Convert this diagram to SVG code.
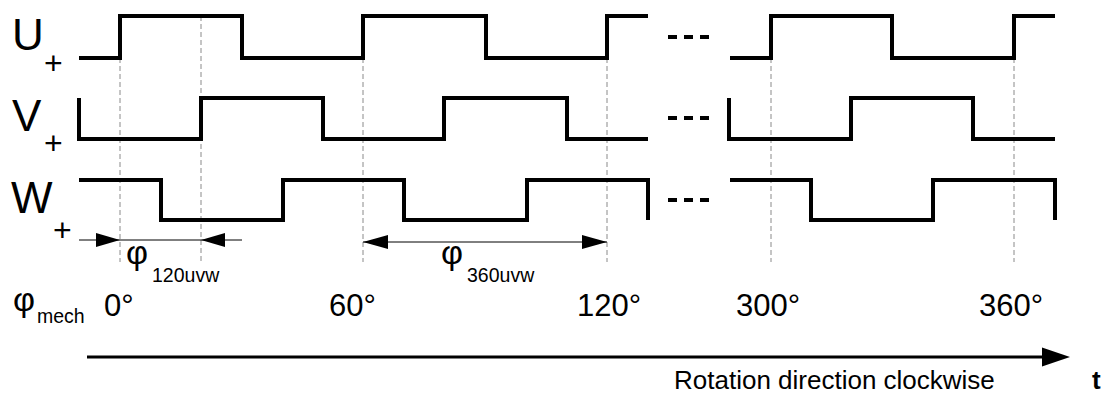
<svg xmlns="http://www.w3.org/2000/svg" width="1109" height="394" viewBox="0 0 1109 394">
<style>
.wave{fill:none;stroke:#000;stroke-width:4;stroke-linejoin:miter;stroke-linecap:butt}
.dots{fill:none;stroke:#000;stroke-width:4;stroke-dasharray:9 7}
.guide{fill:none;stroke:#8a8a8a;stroke-width:1;stroke-dasharray:5 3}
.dim{fill:none;stroke:#000;stroke-width:1}
.head{fill:#000}
text{font-family:"Liberation Sans",Arial,sans-serif;fill:#000}
.big{font-size:44px}
.plus{font-size:32px}
.phi{font-size:34px}
.sub{font-size:19.5px}
.deg{font-size:31px}
</style>
<g id="guides">
<line class="guide" x1="120" y1="58" x2="120" y2="262"/>
<line class="guide" x1="201" y1="16" x2="201" y2="262"/>
<line class="guide" x1="363" y1="58" x2="363" y2="262"/>
<line class="guide" x1="607" y1="58" x2="607" y2="262"/>
<line class="guide" x1="771" y1="58" x2="771" y2="262"/>
<line class="guide" x1="1014" y1="58" x2="1014" y2="262"/>
</g>
<g id="signal-U">
<text class="big" x="12" y="50">U</text>
<text class="plus" x="44" y="74">+</text>
<polyline class="wave" points="79,58 120,58 120,16 242,16 242,58 363,58 363,16 486,16 486,58 607,58 607,16 648,16"/>
<line class="dots" x1="668" y1="37" x2="710" y2="37"/>
<polyline class="wave" points="730,58 771,58 771,16 892,16 892,58 1014,58 1014,16 1055,16"/>
</g>
<g id="signal-V">
<text class="big" x="12" y="131">V</text>
<text class="plus" x="44" y="154">+</text>
<polyline class="wave" points="79,98 79,139 201,139 201,98 323,98 323,139 444,139 444,98 567,98 567,139 648,139"/>
<line class="dots" x1="668" y1="118" x2="710" y2="118"/>
<polyline class="wave" points="729,98 729,139 851,139 851,98 973,98 973,139 1055,139"/>
</g>
<g id="signal-W">
<text class="big" x="11" y="213">W</text>
<text class="plus" x="53" y="241">+</text>
<polyline class="wave" points="79,180 161,180 161,220 283,220 283,180 404,180 404,220 527,220 527,180 648,180 648,220"/>
<line class="dots" x1="668" y1="200" x2="710" y2="200"/>
<polyline class="wave" points="730,180 811,180 811,220 933,220 933,180 1055,180 1055,220"/>
</g>
<g id="connectors">
<line class="dim" x1="79" y1="240" x2="242" y2="240"/>
<polygon class="head" points="96,233 120,240 96,247"/>
<polygon class="head" points="225,233 201,240 225,247"/>
<line class="dim" x1="363" y1="242" x2="607" y2="242"/>
<polygon class="head" points="388,235 363,242 388,249"/>
<polygon class="head" points="582,235 607,242 582,249"/>
<line x1="87" y1="357" x2="1044" y2="357" stroke="#000" stroke-width="3"/>
<polygon class="head" points="1042,347.5 1070,357 1042,366.5"/>
</g>
<g id="label-phi120">
<text class="phi" x="126" y="264">φ</text>
<text class="sub" x="152" y="282">120uvw</text>
</g>
<g id="label-phi360">
<text class="phi" x="441" y="264">φ</text>
<text class="sub" x="467" y="282">360uvw</text>
</g>
<g id="angles">
<text class="phi" x="13" y="311">φ</text>
<text class="sub" x="37" y="323">mech</text>
<text class="deg" x="104" y="316">0°</text>
<text class="deg" x="329" y="316">60°</text>
<text class="deg" x="577" y="316">120°</text>
<text class="deg" x="736" y="316">300°</text>
<text class="deg" x="979" y="316">360°</text>
</g>
<g id="axis-labels">
<text x="674" y="389" font-size="26">Rotation direction clockwise</text>
<text x="1092" y="389" font-size="26" font-weight="bold">t</text>
</g>
</svg>
